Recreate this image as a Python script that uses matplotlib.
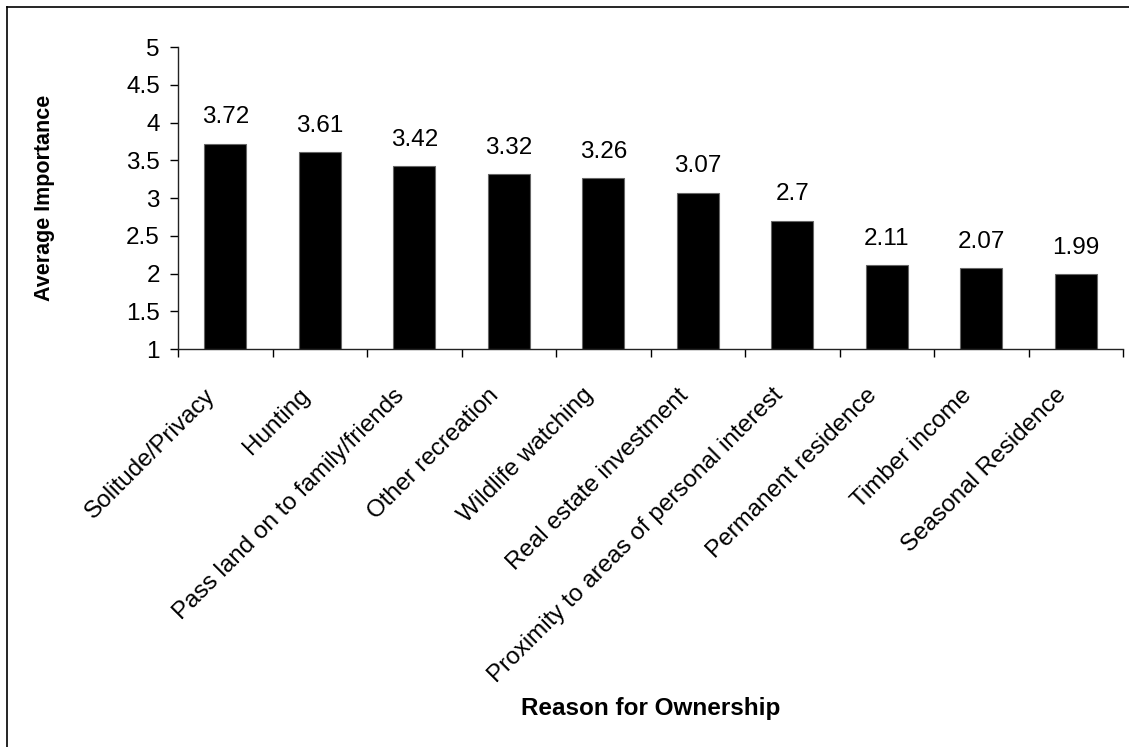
import matplotlib
matplotlib.use("Agg")
import matplotlib.pyplot as plt
from matplotlib.lines import Line2D
from matplotlib.transforms import ScaledTranslation

plt.rcParams['font.family'] = ['Liberation Sans', 'DejaVu Sans']

# data
reasons = [
    "Solitude/Privacy",
    "Hunting",
    "Pass land on to family/friends",
    "Other recreation",
    "Wildlife watching",
    "Real estate investment",
    "Proximity to areas of personal interest",
    "Permanent residence",
    "Timber income",
    "Seasonal Residence",
]
importance = [3.72, 3.61, 3.42, 3.32, 3.26, 3.07, 2.7, 2.11, 2.07, 1.99]
value_labels = ["3.72", "3.61", "3.42", "3.32", "3.26", "3.07", "2.7", "2.11", "2.07", "1.99"]
y_ticks = [1, 1.5, 2, 2.5, 3, 3.5, 4, 4.5, 5]

W, H = 1129, 747
fig = plt.figure(figsize=(W / 100, H / 100), dpi=100)
ax = fig.add_axes([178 / W, 1 - 349 / H, (1123 - 178) / W, (349 - 47) / H])

pos = list(range(len(reasons)))
ax.bar(pos, [v - 1 for v in importance], bottom=1, width=0.445,
       color="black", edgecolor="#666666", linewidth=0.8)

for x, v, lab in zip(pos, importance, value_labels):
    ax.annotate(lab, (x, v), xytext=(0, 11), textcoords="offset points",
                ha="center", va="bottom", fontsize=17.5)

ax.set_xlim(-0.5, len(reasons) - 0.5)
ax.set_ylim(1, 5)
ax.set_yticks(y_ticks)
ax.set_yticklabels(["%g" % t for t in y_ticks], fontsize=17.5)

# ticks on category boundaries, labels on centres
ax.set_xticks([p - 0.5 for p in pos] + [len(reasons) - 0.5])
ax.set_xticklabels([])
ax.set_xticks(pos, minor=True)
ax.set_xticklabels(reasons, minor=True, rotation=45, ha="right", va="center",
                   rotation_mode="anchor", fontsize=17.5)
ax.tick_params(axis="x", which="minor", length=0, pad=31)
ax.tick_params(axis="x", which="major", length=6, direction="out", width=1)
ax.tick_params(axis="y", length=6, direction="out", width=1, pad=7)
shift = ScaledTranslation(-13 / 100, 0, fig.dpi_scale_trans)
for lbl in ax.get_xticklabels(minor=True):
    lbl.set_transform(lbl.get_transform() + shift)

for s in ["top", "right"]:
    ax.spines[s].set_visible(False)
for s in ["left", "bottom"]:
    ax.spines[s].set_linewidth(1)
    ax.spines[s].set_color("#222222")

fig.text(45 / W, 1 - 198 / H, "Average Importance", rotation=90, ha="center", va="center",
         fontsize=15.5, fontweight="bold")
fig.text(651 / W, 1 - 708 / H, "Reason for Ownership", ha="center", va="center",
         fontsize=17.5, fontweight="bold")

# outer chart frame (only left and top edges are visible in the crop)
fig.add_artist(Line2D([7 / W, 7 / W], [0, 1 - 7 / H], transform=fig.transFigure,
                      color="black", linewidth=1.2))
fig.add_artist(Line2D([7 / W, 1], [1 - 7 / H, 1 - 7 / H], transform=fig.transFigure,
                      color="black", linewidth=1.2))

fig.savefig("out.png", dpi=100)
